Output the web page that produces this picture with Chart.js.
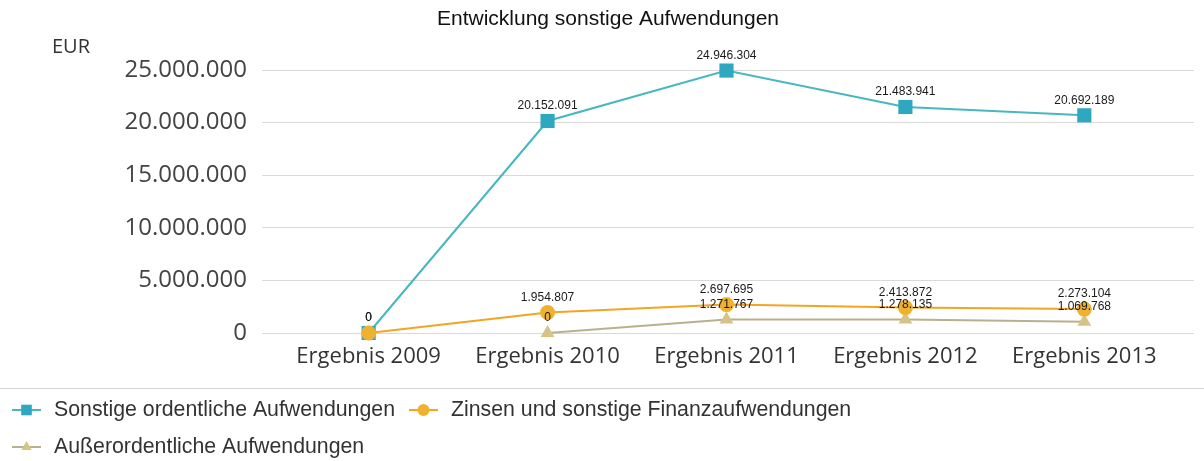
<!DOCTYPE html>
<html>
<head>
<meta charset="utf-8">
<script src="https://cdn.jsdelivr.net/npm/chart.js@4"></script>
<style>
  body { margin: 0; background: #fff; }
</style>
</head>
<body>
<canvas id="myChart" width="1204" height="461"></canvas>
<script>
// Daten
const kategorien = ["Ergebnis 2009", "Ergebnis 2010", "Ergebnis 2011", "Ergebnis 2012", "Ergebnis 2013"];
const sonstigeOrdentliche = [0, 20152091, 24946304, 21483941, 20692189];
const zinsenFinanz = [0, 1954807, 2697695, 2413872, 2273104];
const ausserordentliche = [null, 0, 1271767, 1278135, 1069768];
const yTicks = [0, 5000000, 10000000, 15000000, 20000000, 25000000];

const titel = "Entwicklung sonstige Aufwendungen";
const einheit = "EUR";

// Tausenderpunkt
function formatZahl(v) {
    return String(v).replace(/\B(?=(\d{3})+(?!\d))/g, ".");
}

function punkte(werte) {
    return werte.map((v, i) => ({ x: i, y: v }));
}

const serien = [
    { label: "Sonstige ordentliche Aufwendungen", werte: sonstigeOrdentliche, linie: "#47b8bf", punkt: "#2ea7c0", stil: "rect", radius: 10, order: 3 },
    { label: "Zinsen und sonstige Finanzaufwendungen", werte: zinsenFinanz, linie: "#f3a521", punkt: "#eeb130", stil: "circle", radius: 7.5, order: 1 },
    { label: "Außerordentliche Aufwendungen", werte: ausserordentliche, linie: "#b9b08c", punkt: "#d6c389", stil: "triangle", radius: 8, order: 2 }
];

const datasets = serien.map((s) => ({
    label: s.label,
    data: punkte(s.werte),
    borderColor: s.linie,
    backgroundColor: s.punkt,
    pointBackgroundColor: s.punkt,
    pointBorderColor: s.punkt,
    pointBorderWidth: 0,
    pointStyle: s.stil,
    pointRadius: s.radius,
    pointHoverRadius: s.radius,
    borderWidth: 2,
    tension: 0,
    spanGaps: false,
    clip: false,
    order: s.order
}));

// Titel, Einheit, Werte und Legende zeichnen
const beschriftung = {
    id: "beschriftung",
    afterDatasetsDraw(chart) {
        const ctx = chart.ctx;
        ctx.save();
        ctx.font = "12px 'Liberation Sans', Arial, sans-serif";
        ctx.fillStyle = "#1a1a1a";
        ctx.textAlign = "center";
        ctx.textBaseline = "middle";
        chart.data.datasets.forEach((ds, di) => {
            const meta = chart.getDatasetMeta(di);
            meta.data.forEach((p, i) => {
                const v = ds.data[i].y;
                if (v === null) return;
                ctx.fillText(formatZahl(v), p.x, p.y - 15);
            });
        });
        ctx.restore();
    },
    afterDraw(chart) {
        const ctx = chart.ctx;
        ctx.save();
        ctx.fillStyle = "#111";
        ctx.textAlign = "center";
        ctx.textBaseline = "middle";
        ctx.font = "21px 'Liberation Sans', Arial, sans-serif";
        ctx.fillText(titel, 608, 19);

        ctx.textAlign = "left";
        ctx.fillStyle = "#333";
        ctx.font = "20px 'Open Sans', sans-serif";
        ctx.fillText(einheit, 52, 47);

        // Trennlinie Legende
        ctx.strokeStyle = "#d4d4d4";
        ctx.lineWidth = 1;
        ctx.beginPath();
        ctx.moveTo(0, 388.5);
        ctx.lineTo(1204, 388.5);
        ctx.stroke();

        ctx.font = "21.3px 'Liberation Sans', Arial, sans-serif";
        const zeilen = [
            { y: 410, items: [0, 1] },
            { y: 447, items: [2] }
        ];
        zeilen.forEach((z) => {
            let x = 12;
            z.items.forEach((idx) => {
                const s = serien[idx];
                ctx.strokeStyle = s.linie;
                ctx.lineWidth = 2;
                ctx.beginPath();
                ctx.moveTo(x, z.y);
                ctx.lineTo(x + 29, z.y);
                ctx.stroke();
                ctx.fillStyle = s.punkt;
                Chart.helpers.drawPoint(ctx, { pointStyle: s.stil, radius: s.stil === "rect" ? 7.5 : 6, borderWidth: 0 }, x + 14.5, z.y);
                ctx.fillStyle = "#333";
                ctx.fillText(s.label, x + 42, z.y);
                x += 42 + ctx.measureText(s.label).width + 14;
            });
        });
        ctx.restore();
    }
};

const config = {
    type: "line",
    data: { datasets },
    options: {
        responsive: false,
        animation: false,
        layout: { padding: { top: 70, right: 7, left: 0, bottom: 0 } },
        plugins: {
            legend: { display: false },
            title: { display: false },
            tooltip: { enabled: false }
        },
        scales: {
            x: {
                type: "linear",
                min: -0.596,
                max: 4.613,
                afterFit: (scale) => { scale.height = 128; },
                afterBuildTicks: (scale) => { scale.ticks = kategorien.map((k, i) => ({ value: i })); },
                grid: { display: false, drawTicks: false },
                border: { display: false },
                ticks: {
                    callback: (v) => kategorien[v],
                    color: "#333",
                    font: { family: "'Open Sans', sans-serif", size: 22 },
                    padding: 11,
                    maxRotation: 0,
                    autoSkip: false
                }
            },
            y: {
                min: 0,
                max: 25000000,
                afterFit: (scale) => { scale.width = 262; },
                afterBuildTicks: (scale) => { scale.ticks = yTicks.map((v) => ({ value: v })); },
                grid: { color: "#d9d9d9", drawTicks: false, lineWidth: 1 },
                border: { display: false },
                ticks: {
                    callback: (v) => formatZahl(v),
                    color: "#444",
                    font: { family: "'Open Sans', sans-serif", size: 24 },
                    padding: 15
                }
            }
        }
    },
    plugins: [beschriftung]
};

const myChart = document.getElementById("myChart");
new Chart(myChart, config);
</script>
</body>
</html>
